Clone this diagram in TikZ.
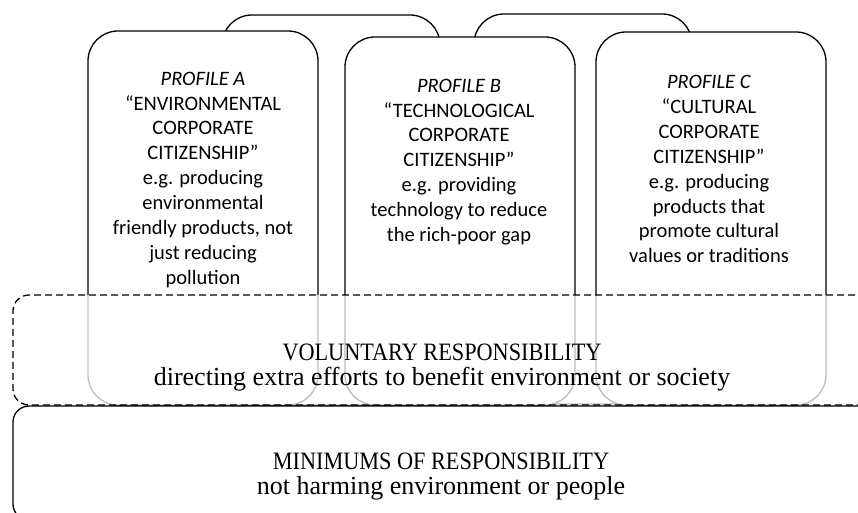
\documentclass[tikz,border=0pt]{standalone}
\usepackage{fontspec}
\setmainfont{Liberation Serif}
\newfontfamily\carlito{Carlito}
\newfontfamily\capserif[FakeStretch=0.89]{Liberation Serif}
\begin{document}
\begin{tikzpicture}[x=1pt,y=-1pt,
  box/.style={draw=black, line width=1.3pt, fill=white, inner sep=0pt, outer sep=0pt},
  profile/.style={box, rounded corners=30pt, minimum width=230pt, minimum height=374pt, anchor=north west},
  backbox/.style={box, rounded corners=30pt, minimum width=218pt, minimum height=390pt, anchor=north west},
  volbox/.style={draw=black, line width=1.3pt, dash pattern=on 7pt off 4pt, fill=white, fill opacity=0.74, draw opacity=1, rounded corners=16pt, inner sep=0pt, outer sep=0pt, anchor=north west, minimum width=880pt, minimum height=110pt},
  minbox/.style={box, rounded corners=16pt, anchor=north west, minimum width=880pt, minimum height=114pt},
  ptext/.style={font=\carlito\fontsize{20.5}{24.9}\selectfont, align=center, inner sep=0pt, anchor=north},
  capline/.style={font=\capserif\fontsize{25}{24}\selectfont, inner sep=0pt, anchor=base},
  lowline/.style={font=\fontsize{26}{24}\selectfont, inner sep=0pt, anchor=base}]
\clip (0,0) rectangle (858,513);
% back boxes
\node[backbox] (bk1) at (222,15) {};
\node[backbox] (bk2) at (474,14) {};
% profiles
\node[profile] (pa) at (88,31) {};
\node[profile, minimum height=368pt] (pb) at (345,37) {};
\node[profile, minimum height=373pt] (pc) at (596,32) {};
% voluntary layer
\node[volbox] (vol) at (13,295) {};
% minimums layer
\node[minbox] (min) at (13,406) {};
% profile texts
\node[ptext] (ta) at (203,71.6) {\textit{PROFILE A}\\“ENVIRONMENTAL\\CORPORATE\\CITIZENSHIP”\\e.g. producing\\environmental\\friendly products, not\\just reducing\\pollution};
\node[ptext] (tb) at (459,78.6) {\textit{PROFILE B}\\“TECHNOLOGICAL\\CORPORATE\\CITIZENSHIP”\\e.g. providing\\technology to reduce\\the rich-poor gap};
\node[ptext] (tc) at (709,75) {\textit{PROFILE C}\\“CULTURAL\\CORPORATE\\CITIZENSHIP”\\e.g. producing\\products that\\promote cultural\\values or traditions};
% layer texts
\node[capline] (v1) at (442,360) {VOLUNTARY RESPONSIBILITY};
\node[lowline] (v2) at (442,385) {directing extra efforts to benefit environment or society};
\node[capline] (m1) at (441,469) {MINIMUMS OF RESPONSIBILITY};
\node[lowline] (m2) at (441,494) {not harming environment or people};
\end{tikzpicture}
\end{document}
